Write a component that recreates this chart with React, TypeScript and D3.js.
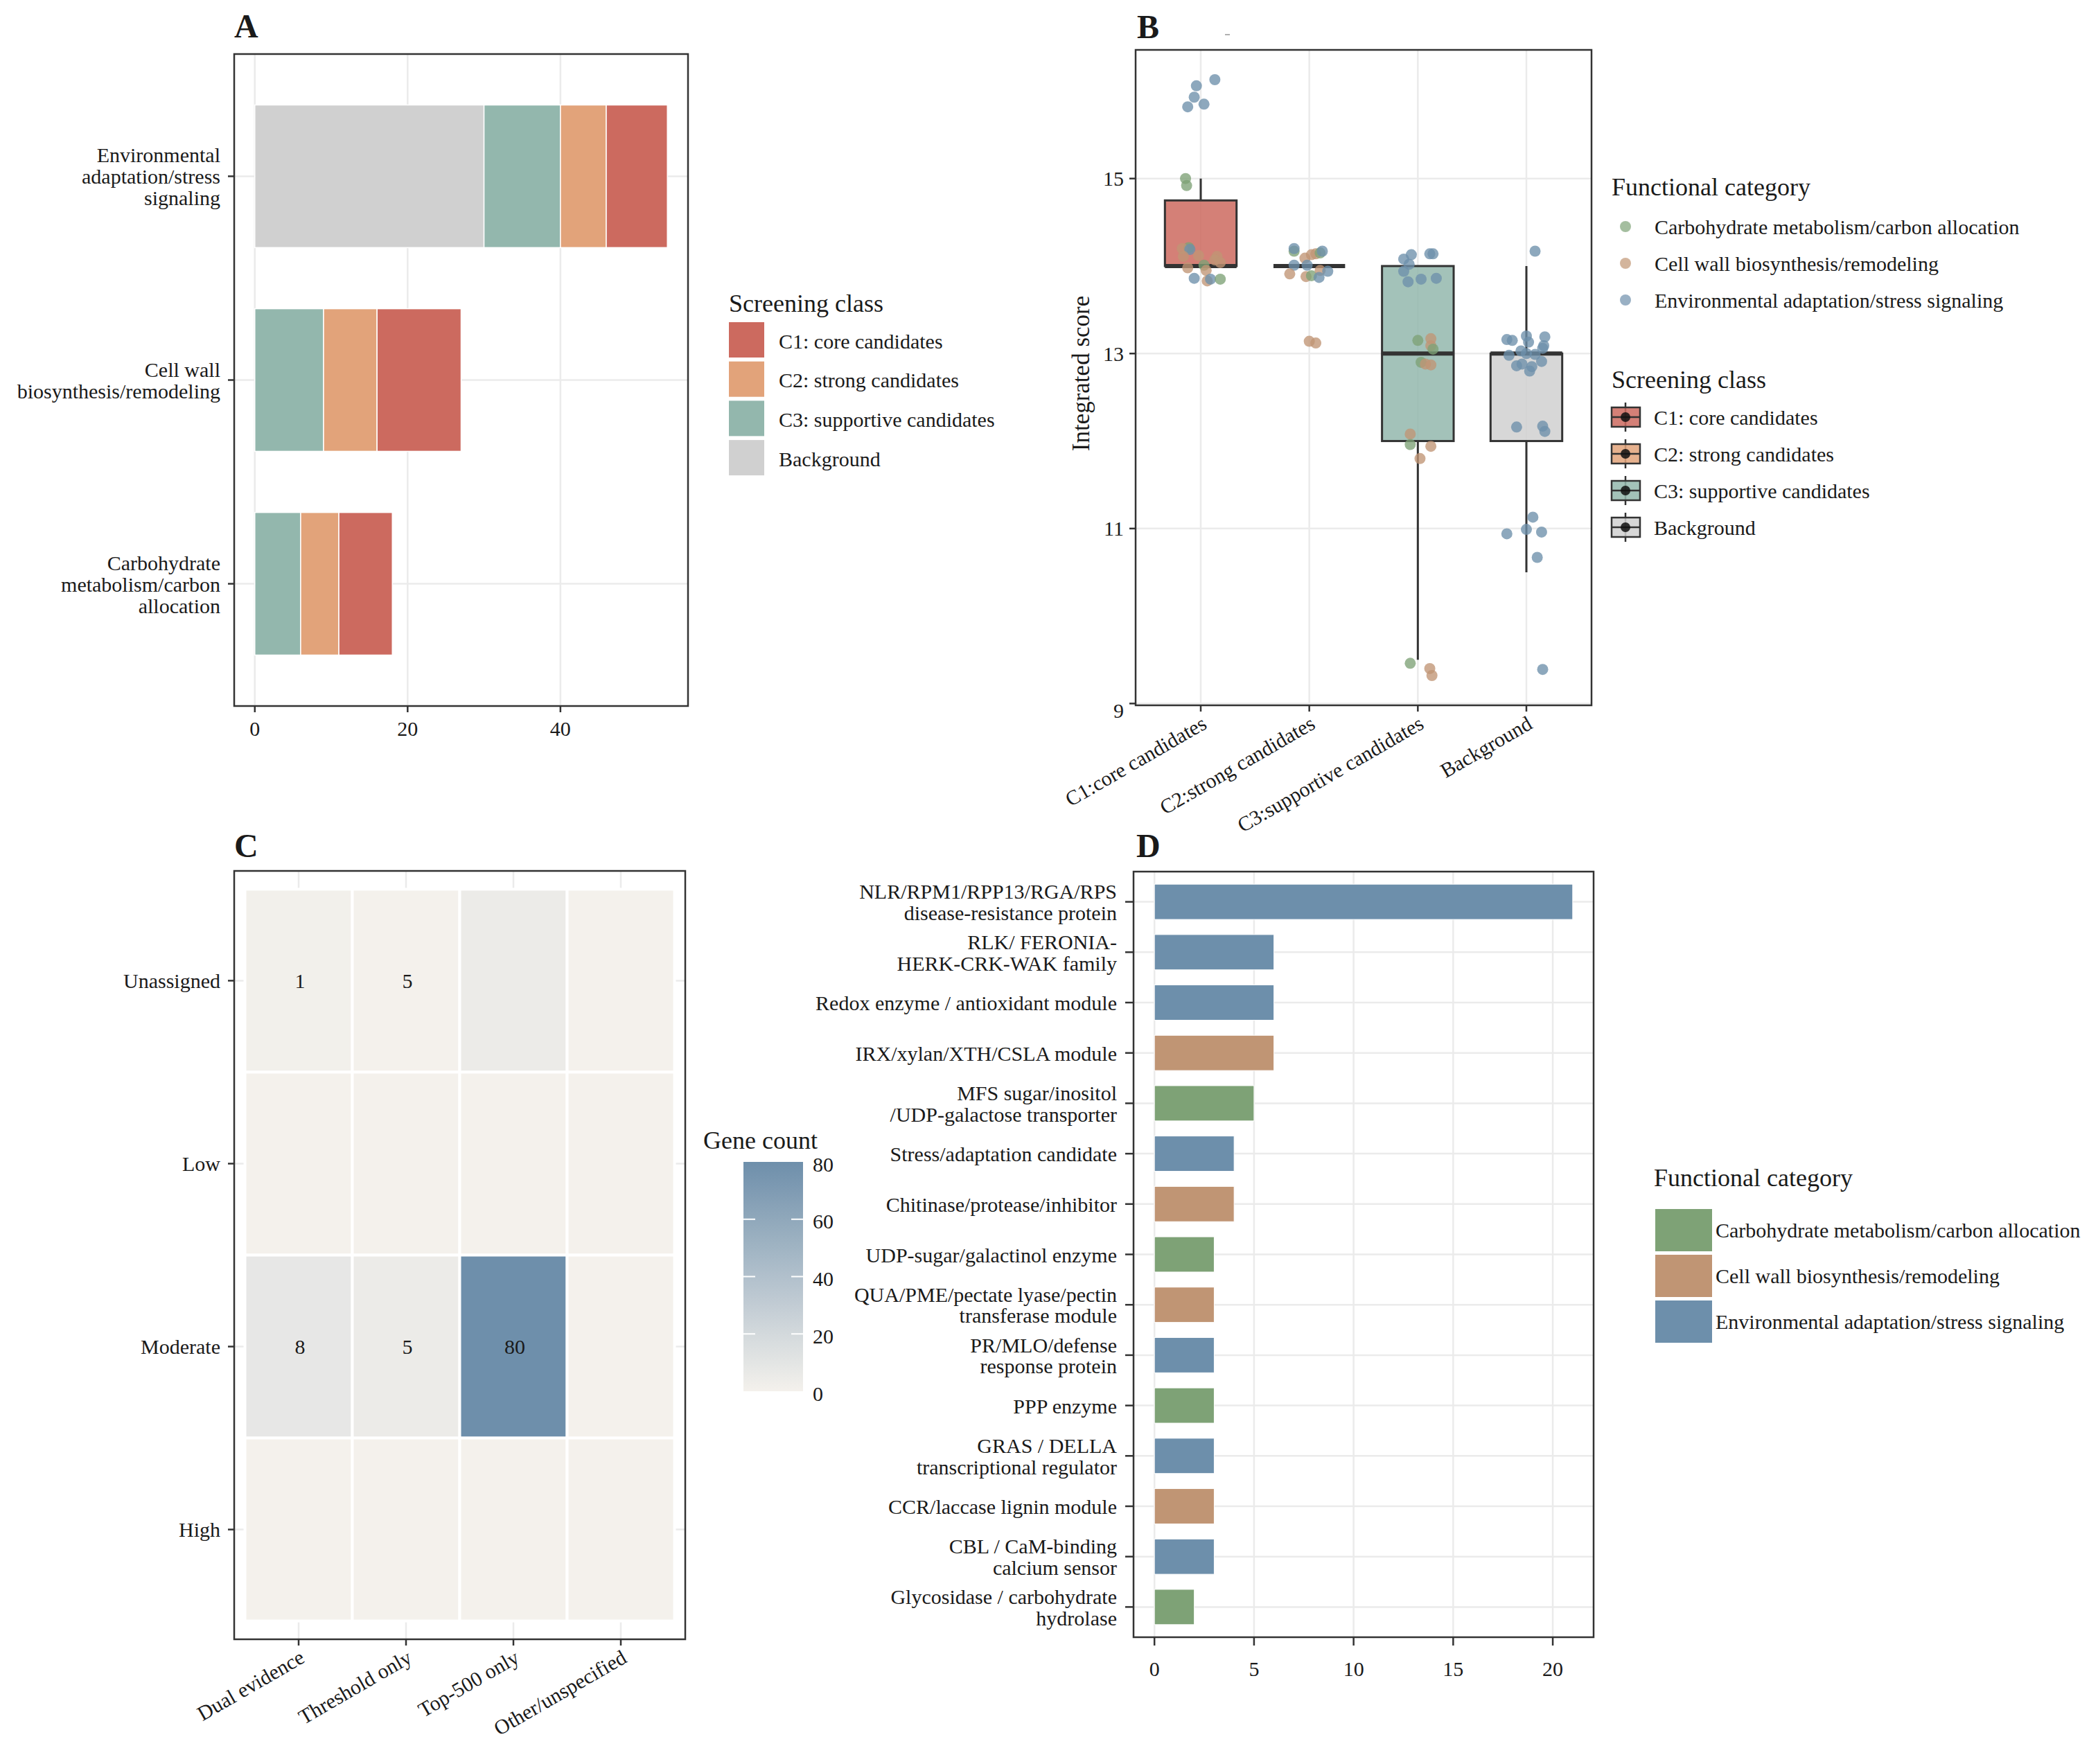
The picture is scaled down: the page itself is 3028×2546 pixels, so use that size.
import * as d3 from "d3";

const FONT = "'Liberation Serif', 'Times New Roman', serif";
const INK = "#1a1a1a";
const GRID = "#ebebeb";
const BORDER = "#333333";

// shared legends
const funcCats = [
  "Carbohydrate metabolism/carbon allocation",
  "Cell wall biosynthesis/remodeling",
  "Environmental adaptation/stress signaling",
];
const funcColors = ["#7ea276", "#c09574", "#6d8fab"];
const screenClasses = ["C1: core candidates", "C2: strong candidates", "C3: supportive candidates", "Background"];
const screenColors = ["#cc6a5f", "#e2a37a", "#93b7ad", "#d0d0d0"];

// ---- panel A: stacked counts per functional category (top to bottom)
const aCategories = ["Environmental", "Cell wall", "Carbohydrate"];
const aLabels = [
  ["Environmental", "adaptation/stress", "signaling"],
  ["Cell wall", "biosynthesis/remodeling"],
  ["Carbohydrate", "metabolism/carbon", "allocation"],
];
const aBackground = [30, 0, 0];
const aC3 = [10, 9, 6];
const aC2 = [6, 7, 5];
const aC1 = [8, 11, 7];
const aTicks = [0, 20, 40];

// ---- panel B: integrated score by screening class
const bClasses = ["C1:core candidates", "C2:strong candidates", "C3:supportive candidates", "Background"];
const bWhiskerLow = [14, 14, 9.5, 10.5];
const bQ1 = [14, 14, 12, 12];
const bMedian = [14, 14, 13, 13];
const bQ3 = [14.75, 14, 14, 13];
const bWhiskerHigh = [15, 14, 14, 14];
const bTicks = [9, 11, 13, 15];
// [functional category index, jitter (in category widths), score]
const c1Points: [number, number, number][] = [
  [2, 0.13, 16.13], [2, -0.04, 16.06], [2, -0.06, 15.93], [2, -0.12, 15.82], [2, 0.03, 15.85],
  [0, -0.14, 15.0], [0, -0.13, 14.92],
  [0, -0.11, 14.21], [1, -0.17, 14.2], [2, -0.1, 14.19], [1, -0.16, 14.11], [1, -0.02, 14.12],
  [1, 0.15, 14.11], [1, 0.13, 14.07], [1, 0.18, 14.04], [0, 0.03, 14.01], [1, -0.12, 13.98],
  [1, 0.05, 13.95], [2, -0.06, 13.86], [1, 0.06, 13.83], [2, 0.09, 13.85], [0, 0.18, 13.85],
];
const c2Points: [number, number, number][] = [
  [0, -0.14, 14.17], [2, -0.14, 14.2], [1, -0.04, 14.09], [1, 0.02, 14.13], [1, 0.06, 14.14],
  [0, 0.1, 14.15], [2, 0.12, 14.17], [2, -0.14, 14.01], [2, -0.02, 14.01], [1, -0.18, 13.91],
  [1, -0.03, 13.88], [0, 0.02, 13.89], [1, 0.1, 13.95], [2, 0.17, 13.94], [2, 0.09, 13.87],
  [1, 0.0, 13.14], [1, 0.06, 13.12],
];
const c3Points: [number, number, number][] = [
  [2, -0.13, 14.08], [2, -0.06, 14.13], [2, -0.08, 14.02], [2, -0.13, 13.94], [2, -0.09, 13.82],
  [2, 0.03, 13.85], [2, 0.17, 13.86], [2, 0.11, 14.14], [2, 0.14, 14.14],
  [0, 0.0, 13.15], [1, 0.12, 13.17], [1, 0.12, 13.09], [0, 0.14, 13.05], [0, 0.03, 12.9],
  [1, 0.07, 12.88], [1, 0.12, 12.87],
  [1, -0.07, 12.08], [0, -0.07, 11.96], [1, 0.12, 11.94], [1, 0.02, 11.8],
  [0, -0.07, 9.46], [1, 0.11, 9.4], [1, 0.13, 9.32],
];
const bgPoints: [number, number, number][] = [
  [2, 0.08, 14.17], [2, -0.18, 13.16], [2, -0.13, 13.15], [2, 0.0, 13.2], [2, 0.17, 13.19],
  [2, 0.02, 13.13], [2, 0.16, 13.09], [2, 0.15, 13.06], [2, -0.05, 13.03], [2, -0.16, 12.98],
  [2, 0.08, 12.99], [2, 0.14, 12.91], [2, -0.09, 12.86], [2, -0.04, 12.88], [2, 0.05, 12.85],
  [2, 0.03, 12.8], [2, 0.0, 13.0],
  [2, -0.09, 12.16], [2, 0.15, 12.17], [2, 0.17, 12.11],
  [2, 0.06, 11.13], [2, -0.18, 10.94], [2, 0.0, 10.99], [2, 0.14, 10.96], [2, 0.1, 10.67],
  [2, 0.15, 9.39],
];
const bPoints = [c1Points, c2Points, c3Points, bgPoints];

// ---- panel C: heatmap
const cRows = ["Unassigned", "Low", "Moderate", "High"];
const cCols = ["Dual evidence", "Threshold only", "Top-500 only", "Other/unspecified"];
const cCounts = [
  [1, 0, 5, 0],
  [0, 0, 0, 0],
  [8, 5, 80, 0],
  [0, 0, 0, 0],
];
const cLabels = [
  ["1", "5", "", ""],
  ["", "", "", ""],
  ["8", "5", "80", ""],
  ["", "", "", ""],
];
const cBreaks = [0, 20, 40, 60, 80];

// ---- panel D: gene families
const dLabels = [
  ["NLR/RPM1/RPP13/RGA/RPS", "disease-resistance protein"],
  ["RLK/ FERONIA-", "HERK-CRK-WAK family"],
  ["Redox enzyme / antioxidant module"],
  ["IRX/xylan/XTH/CSLA module"],
  ["MFS sugar/inositol", "/UDP-galactose transporter"],
  ["Stress/adaptation candidate"],
  ["Chitinase/protease/inhibitor"],
  ["UDP-sugar/galactinol enzyme"],
  ["QUA/PME/pectate lyase/pectin", "transferase module"],
  ["PR/MLO/defense", "response protein"],
  ["PPP enzyme"],
  ["GRAS / DELLA", "transcriptional regulator"],
  ["CCR/laccase lignin module"],
  ["CBL / CaM-binding", "calcium sensor"],
  ["Glycosidase / carbohydrate", "hydrolase"],
];
const dValues = [21, 6, 6, 6, 5, 4, 4, 3, 3, 3, 3, 3, 3, 3, 2];
const dFunc = [2, 2, 2, 1, 0, 2, 1, 0, 1, 2, 0, 2, 1, 2, 0];
const dTicks = [0, 5, 10, 15, 20];

const Lines = ({ x, y, lines, anchor = "end", size = 30, lh = 31 }: any) => (
  <text x={x} y={y} textAnchor={anchor} fontSize={size} fill={INK} dominantBaseline="central">
    {lines.map((l: string, i: number) => (
      <tspan key={i} x={x} dominantBaseline="central" dy={i === 0 ? (-(lines.length - 1) / 2) * lh : lh}>
        {l}
      </tspan>
    ))}
  </text>
);

const PanelA = () => {
  const left = 338, right = 993, top = 78, bottom = 1019;
  const totals = aCategories.map((_, i) => aBackground[i] + aC3[i] + aC2[i] + aC1[i]);
  const mx = d3.max(totals) ?? 54;
  const x = d3.scaleLinear().domain([-0.05 * mx, mx * 1.05]).range([left, right]);
  const y = d3.scalePoint().domain(aCategories).range([top, bottom]).padding(0.6);
  const bh = y.step() * 0.7;
  const rows = aCategories.map((c, i) => ({ cat: c, bg: aBackground[i], c3: aC3[i], c2: aC2[i], c1: aC1[i] }));
  const keys = ["bg", "c3", "c2", "c1"];
  const keyColor: Record<string, string> = { bg: screenColors[3], c3: screenColors[2], c2: screenColors[1], c1: screenColors[0] };
  const stack = d3.stack<any>().keys(keys)(rows);
  return (
    <g>
      <text x={338} y={54} fontSize={48} fontWeight="bold" fill={INK}>A</text>
      {aTicks.map((t) => (
        <line key={t} x1={x(t)} x2={x(t)} y1={top} y2={bottom} stroke={GRID} strokeWidth={2.5} />
      ))}
      {aCategories.map((c) => (
        <line key={c} x1={left} x2={right} y1={y(c)} y2={y(c)} stroke={GRID} strokeWidth={2.5} />
      ))}
      {stack.map((s) =>
        s.map((d, i) =>
          d[1] > d[0] ? (
            <rect key={s.key + i} x={x(d[0])} width={x(d[1]) - x(d[0])} y={y(aCategories[i])! - bh / 2} height={bh}
              fill={keyColor[s.key]} stroke="#ffffff" strokeWidth={1.5} />
          ) : null
        )
      )}
      <rect x={left} y={top} width={right - left} height={bottom - top} fill="none" stroke={BORDER} strokeWidth={2.5} />
      {aTicks.map((t) => (
        <g key={t}>
          <line x1={x(t)} x2={x(t)} y1={bottom} y2={bottom + 9} stroke={BORDER} strokeWidth={2.5} />
          <text x={x(t)} y={bottom + 32} textAnchor="middle" dominantBaseline="central" fontSize={30} fill={INK}>{t}</text>
        </g>
      ))}
      {aCategories.map((c, i) => (
        <g key={c}>
          <line x1={left - 9} x2={left} y1={y(c)} y2={y(c)} stroke={BORDER} strokeWidth={2.5} />
          <Lines x={318} y={y(c)} lines={aLabels[i]} />
        </g>
      ))}
      <text x={1052} y={450} fontSize={36} fill={INK}>Screening class</text>
      {screenClasses.map((s, i) => (
        <g key={s}>
          <rect x={1052} y={465 + i * 56.7} width={51} height={51} fill={screenColors[i]} />
          <text x={1124} y={492 + i * 56.7} fontSize={30} fill={INK} dominantBaseline="central">{s}</text>
        </g>
      ))}
    </g>
  );
};

const PanelB = () => {
  const left = 1639, right = 2297, top = 72, bottom = 1018;
  const all = bPoints.flat().map((p) => p[2]).concat(bWhiskerLow, bWhiskerHigh);
  const [lo, hi] = d3.extent(all) as [number, number];
  const pad = (hi - lo) * 0.05;
  const y = d3.scaleLinear().domain([lo - pad, hi + pad]).range([bottom, top]);
  const x = d3.scalePoint().domain(bClasses).range([left, right]).padding(0.6);
  const step = x.step();
  const bw = step * 0.66;
  return (
    <g>
      <text x={1641} y={55} fontSize={48} fontWeight="bold" fill={INK}>B</text>
      <line x1={1768} x2={1775} y1={50} y2={50} stroke="#b0b0b0" strokeWidth={2} />
      {bTicks.map((t) => (
        <line key={t} x1={left} x2={right} y1={y(t)} y2={y(t)} stroke={GRID} strokeWidth={2.5} />
      ))}
      {bClasses.map((c) => (
        <line key={c} x1={x(c)} x2={x(c)} y1={top} y2={bottom} stroke={GRID} strokeWidth={2.5} />
      ))}
      {bClasses.map((c, i) => {
        const cx = x(c)!;
        return (
          <g key={c}>
            <line x1={cx} x2={cx} y1={y(bWhiskerHigh[i])} y2={y(bQ3[i])} stroke={BORDER} strokeWidth={3} />
            <line x1={cx} x2={cx} y1={y(bQ1[i])} y2={y(bWhiskerLow[i])} stroke={BORDER} strokeWidth={3} />
            <rect x={cx - bw / 2} y={y(bQ3[i])} width={bw} height={y(bQ1[i]) - y(bQ3[i])}
              fill={screenColors[i]} fillOpacity={0.85} stroke={BORDER} strokeWidth={3} />
            <line x1={cx - bw / 2} x2={cx + bw / 2} y1={y(bMedian[i])} y2={y(bMedian[i])} stroke={BORDER} strokeWidth={6} />
          </g>
        );
      })}
      {bPoints.map((pts, i) =>
        pts.map((p, j) => (
          <circle key={i + "-" + j} cx={x(bClasses[i])! + p[1] * step} cy={y(p[2])} r={8}
            fill={funcColors[p[0]]} fillOpacity={0.78} />
        ))
      )}
      <rect x={left} y={top} width={right - left} height={bottom - top} fill="none" stroke={BORDER} strokeWidth={2.5} />
      {bTicks.map((t) => (
        <g key={t}>
          <line x1={left - 9} x2={left} y1={y(t)} y2={y(t)} stroke={BORDER} strokeWidth={2.5} />
          <text x={1622} y={y(t) + (t === 9 ? 10 : 0)} textAnchor="end" dominantBaseline="central" fontSize={30} fill={INK}>{t}</text>
        </g>
      ))}
      {bClasses.map((c) => (
        <g key={c}>
          <line x1={x(c)} x2={x(c)} y1={bottom} y2={bottom + 9} stroke={BORDER} strokeWidth={2.5} />
          <text transform={`translate(${x(c)},${bottom + 14}) rotate(-30)`} textAnchor="end" dy="0.7em" fontSize={30} fill={INK}>{c}</text>
        </g>
      ))}
      <text transform={`translate(1560,${(top + bottom) / 2 - 6}) rotate(-90)`} textAnchor="middle" dominantBaseline="central" fontSize={35} fill={INK}>
        Integrated score
      </text>
      <text x={2326} y={282} fontSize={36} fill={INK}>Functional category</text>
      {funcCats.map((f, i) => (
        <g key={f}>
          <circle cx={2346} cy={327 + i * 53} r={8} fill={funcColors[i]} fillOpacity={0.7} />
          <text x={2388} y={327 + i * 53} fontSize={30} fill={INK} dominantBaseline="central">{f}</text>
        </g>
      ))}
      <text x={2326} y={560} fontSize={36} fill={INK}>Screening class</text>
      {screenClasses.map((s, i) => {
        const cy = 602 + i * 53;
        return (
          <g key={s}>
            <line x1={2346} x2={2346} y1={cy - 21} y2={cy + 21} stroke={BORDER} strokeWidth={2.5} />
            <rect x={2326} y={cy - 14} width={41} height={28} fill={screenColors[i]} fillOpacity={0.85} stroke={BORDER} strokeWidth={2.5} />
            <line x1={2326} x2={2367} y1={cy} y2={cy} stroke={BORDER} strokeWidth={2.5} />
            <circle cx={2346} cy={cy} r={7} fill="#111" fillOpacity={0.85} />
            <text x={2387} y={cy} fontSize={30} fill={INK} dominantBaseline="central">{s}</text>
          </g>
        );
      })}
    </g>
  );
};

const PanelC = () => {
  const left = 338, right = 989, top = 1257, bottom = 2366;
  const x = d3.scalePoint().domain(cCols).range([left, right]).padding(0.6);
  const y = d3.scalePoint().domain(cRows).range([top, bottom]).padding(0.6);
  const color = d3.scaleLinear<string>().domain([0, 80]).range(["#f4f1ec", "#6e8fab"]);
  const sx = x.step(), sy = y.step();
  const barTop = 1677, barBottom = 2008;
  const lg = d3.scaleLinear().domain([0, 80]).range([barBottom, barTop]);
  return (
    <g>
      <defs>
        <linearGradient id="gc" x1="0" y1="1" x2="0" y2="0">
          {d3.range(0, 81, 10).map((v) => (
            <stop key={v} offset={v / 80} stopColor={color(v)} />
          ))}
        </linearGradient>
      </defs>
      <text x={338} y={1237} fontSize={48} fontWeight="bold" fill={INK}>C</text>
      {cCols.map((c) => (
        <line key={c} x1={x(c)} x2={x(c)} y1={top} y2={bottom} stroke={GRID} strokeWidth={2.5} />
      ))}
      {cRows.map((r) => (
        <line key={r} x1={left} x2={right} y1={y(r)} y2={y(r)} stroke={GRID} strokeWidth={2.5} />
      ))}
      {cRows.map((r, i) =>
        cCols.map((c, j) => (
          <g key={r + c}>
            <rect x={x(c)! - sx / 2} y={y(r)! - sy / 2} width={sx} height={sy} fill={color(cCounts[i][j])}
              stroke="#ffffff" strokeWidth={4} />
            {cLabels[i][j] && (
              <text x={x(c)! + 2} y={y(r)} textAnchor="middle" dominantBaseline="central" fontSize={30} fill={INK}>
                {cLabels[i][j]}
              </text>
            )}
          </g>
        ))
      )}
      <rect x={left} y={top} width={right - left} height={bottom - top} fill="none" stroke={BORDER} strokeWidth={2.5} />
      {cRows.map((r) => (
        <g key={r}>
          <line x1={left - 9} x2={left} y1={y(r)} y2={y(r)} stroke={BORDER} strokeWidth={2.5} />
          <text x={318} y={y(r)} textAnchor="end" dominantBaseline="central" fontSize={30} fill={INK}>{r}</text>
        </g>
      ))}
      {cCols.map((c) => (
        <g key={c}>
          <line x1={x(c)} x2={x(c)} y1={bottom} y2={bottom + 9} stroke={BORDER} strokeWidth={2.5} />
          <text transform={`translate(${x(c)},${bottom + 14}) rotate(-30)`} textAnchor="end" dy="0.7em" fontSize={30} fill={INK}>{c}</text>
        </g>
      ))}
      <text x={1015} y={1658} fontSize={36} fill={INK}>Gene count</text>
      <rect x={1073} y={barTop} width={86} height={barBottom - barTop} fill="url(#gc)" />
      {cBreaks.map((b) => (
        <g key={b}>
          {b > 0 && b < 80 && (
            <>
              <line x1={1073} x2={1090} y1={lg(b)} y2={lg(b)} stroke="#ffffff" strokeWidth={2} />
              <line x1={1142} x2={1159} y1={lg(b)} y2={lg(b)} stroke="#ffffff" strokeWidth={2} />
            </>
          )}
          <text x={1173} y={lg(b) + 3} dominantBaseline="central" fontSize={30} fill={INK}>{b}</text>
        </g>
      ))}
    </g>
  );
};

const PanelD = () => {
  const left = 1636, right = 2300, top = 1258, bottom = 2363;
  const mx = d3.max(dValues) ?? 21;
  const x = d3.scaleLinear().domain([-0.05 * mx, mx * 1.05]).range([left, right]);
  const ids = dLabels.map((_, i) => String(i));
  const y = d3.scalePoint().domain(ids).range([top, bottom]).padding(0.6);
  const bh = y.step() * 0.7;
  return (
    <g>
      <text x={1640} y={1237} fontSize={48} fontWeight="bold" fill={INK}>D</text>
      {dTicks.map((t) => (
        <line key={t} x1={x(t)} x2={x(t)} y1={top} y2={bottom} stroke={GRID} strokeWidth={2.5} />
      ))}
      {ids.map((id) => (
        <line key={id} x1={left} x2={right} y1={y(id)} y2={y(id)} stroke={GRID} strokeWidth={2.5} />
      ))}
      {ids.map((id, i) => (
        <rect key={id} x={x(0)} y={y(id)! - bh / 2} width={x(dValues[i]) - x(0)} height={bh}
          fill={funcColors[dFunc[i]]} stroke="#ffffff" strokeWidth={1} />
      ))}
      <rect x={left} y={top} width={right - left} height={bottom - top} fill="none" stroke={BORDER} strokeWidth={2.5} />
      {dTicks.map((t) => (
        <g key={t}>
          <line x1={x(t)} x2={x(t)} y1={bottom} y2={bottom + 12} stroke={BORDER} strokeWidth={2.5} />
          <text x={x(t)} y={bottom + 45} textAnchor="middle" dominantBaseline="central" fontSize={30} fill={INK}>{t}</text>
        </g>
      ))}
      {ids.map((id, i) => (
        <g key={id}>
          <line x1={left - 12} x2={left} y1={y(id)} y2={y(id)} stroke={BORDER} strokeWidth={2.5} />
          <Lines x={1612} y={y(id)} lines={dLabels[i]} lh={30.5} />
        </g>
      ))}
      <text x={2387} y={1712} fontSize={36} fill={INK}>Functional category</text>
      {funcCats.map((f, i) => (
        <g key={f}>
          <rect x={2389} y={1745 + i * 66} width={82} height={61} fill={funcColors[i]} />
          <text x={2476} y={1775.5 + i * 66} fontSize={30} fill={INK} dominantBaseline="central">{f}</text>
        </g>
      ))}
    </g>
  );
};

export default function App() {
  return (
    <svg width={3028} height={2546} viewBox="0 0 3028 2546"
      style={{ position: "absolute", left: 0, top: 0, background: "#ffffff", fontFamily: FONT }}>
      <rect width={3028} height={2546} fill="#ffffff" />
      <PanelA />
      <PanelB />
      <PanelC />
      <PanelD />
    </svg>
  );
}
